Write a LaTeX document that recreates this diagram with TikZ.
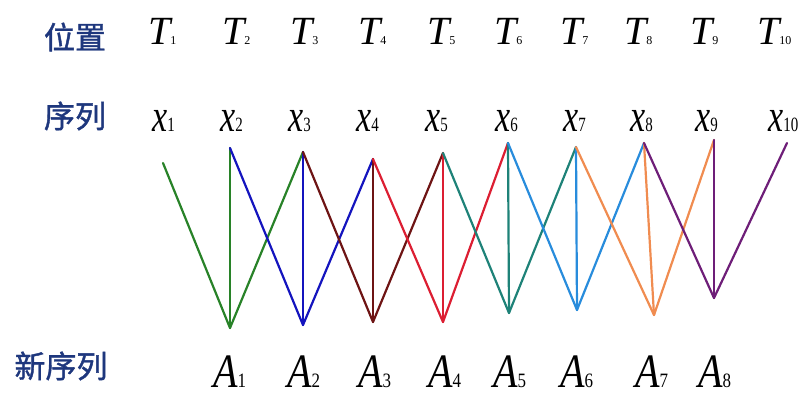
\documentclass[tikz,border=0pt]{standalone}
\usepackage{fontspec}
\setmainfont{Liberation Serif}
\newfontfamily\cjk[FakeBold=1.3]{Noto Sans CJK SC}
\definecolor{cjkblue}{RGB}{30,55,125}
\definecolor{cA}{RGB}{40,130,40}
\definecolor{cB}{RGB}{20,20,190}
\definecolor{cC}{RGB}{110,20,20}
\definecolor{cD}{RGB}{220,30,50}
\definecolor{cE}{RGB}{30,130,120}
\definecolor{cF}{RGB}{40,140,220}
\definecolor{cG}{RGB}{240,140,80}
\definecolor{cH}{RGB}{110,30,120}
\tikzset{
  lab/.style={inner sep=0pt, anchor=base west},
  cn/.style={inner sep=0pt, text=cjkblue, font=\cjk\fontsize{31}{31}\selectfont},
  link/.style={line width=2.2pt, line cap=round, line join=round}
}
\newcommand{\Tlab}[1]{{\fontsize{40}{40}\selectfont\itshape T}{\fontsize{12}{12}\selectfont #1}}
\newcommand{\Xlab}[1]{\scalebox{1}[1.35]{{\fontsize{34}{34}\selectfont\itshape x}{\fontsize{15}{15}\selectfont #1}}}
\newcommand{\Alab}[1]{\scalebox{1}[1.2]{{\fontsize{40}{40}\selectfont\itshape A}{\fontsize{17}{17}\selectfont #1}}}
\begin{document}
\begin{tikzpicture}[x=1pt,y=1pt]
\useasboundingbox (0,0) rectangle (807,398);
% left labels
\node[cn] (L1) at (75,361) {位置};
\node[cn] (L2) at (75,282) {序列};
\node[cn] (L3) at (61,32) {新序列};
% T row
\foreach \i/\px in {1/148,2/222,3/290,4/358,5/427,6/494,7/560,8/624,9/690,10/757}
  \node[lab] (T\i) at (\px,353) {\Tlab{\i}};
% x row
\foreach \i/\px in {1/152,2/220,3/288,4/356,5/425,6/495,7/563,8/630,9/695,10/768}
  \node[lab] (X\i) at (\px,266) {\Xlab{\i}};
% A row
\foreach \i/\px in {1/213,2/287,3/358,4/428,5/493,6/560,7/635,8/698}
  \node[lab] (A\i) at (\px,10) {\Alab{\i}};
% line end points
\coordinate (t1) at (163,235);
\coordinate (t2) at (230,250);
\coordinate (t3) at (303,246);
\coordinate (t4) at (373,239);
\coordinate (t5) at (443,245);
\coordinate (t6) at (508,255);
\coordinate (t7) at (576,251);
\coordinate (t8) at (644,255);
\coordinate (t9) at (714,258);
\coordinate (t10) at (787,255);
\coordinate (b1) at (230,70);
\coordinate (b2) at (303,73);
\coordinate (b3) at (373,76);
\coordinate (b4) at (443,76);
\coordinate (b5) at (509,85);
\coordinate (b6) at (577,88);
\coordinate (b7) at (654,83);
\coordinate (b8) at (714,100);
% connectors
\foreach \k/\c [evaluate=\k as \ka using int(\k+1), evaluate=\k as \kb using int(\k+2)]
  in {1/cA,2/cB,3/cC,4/cD,5/cE,6/cF,7/cG,8/cH} {
  \draw[link, draw=\c] (t\k) -- (b\k) -- (t\kb);
  \draw[link, draw=\c] (b\k) -- (t\ka);
}
\end{tikzpicture}
\end{document}
